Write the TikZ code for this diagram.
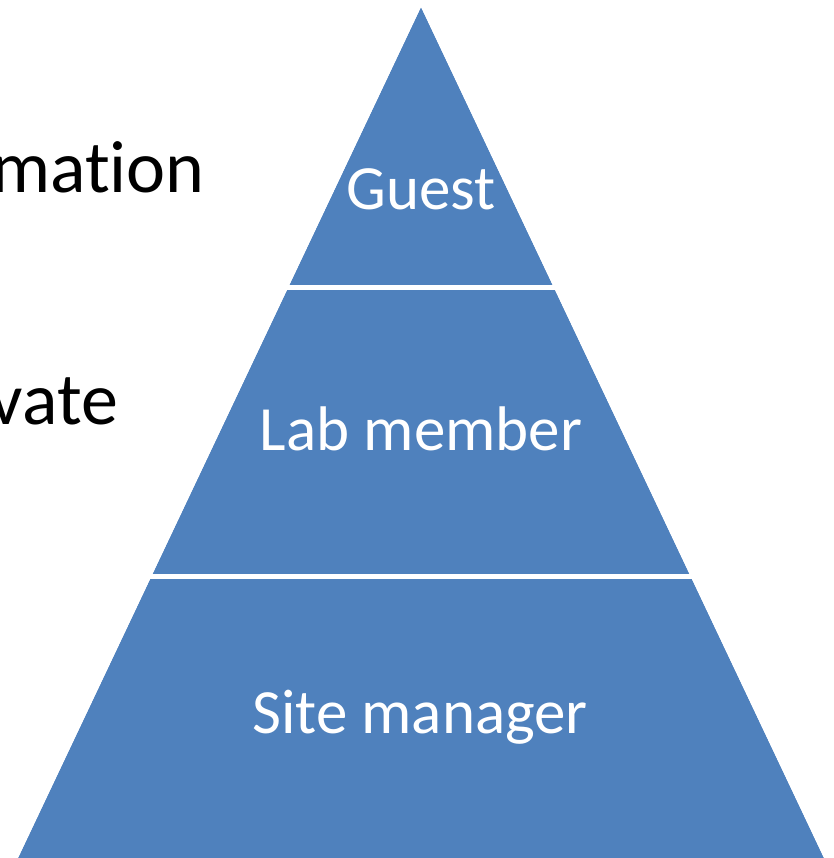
\documentclass[tikz,border=0pt]{standalone}
\usepackage{fontspec}
\setmainfont[Ligatures={NoCommon}]{Carlito}
\definecolor{pyrblue}{HTML}{4F81BD}
\begin{document}
\begin{tikzpicture}[x=1pt,y=-1pt,
  lvltext/.style={text=white,inner sep=0pt,anchor=base,font=\fontsize{63}{70}\selectfont},
  sidetext/.style={text=black,inner sep=0pt,anchor=base east,font=\fontsize{74}{80}\selectfont},
  gap/.style={white,line width=5.5pt}]
\useasboundingbox (0,0) rectangle (833,858);
\clip (0,0) rectangle (833,858);
\fill[white] (0,0) rectangle (833,858);
% pyramid
\coordinate (apex) at (421,7);
\coordinate (bl) at (18,858);
\coordinate (br) at (824,858);
\fill[pyrblue] (apex) -- (br) -- (bl) -- cycle;
\draw[gap] (200,287.5) -- (650,287.5);
\draw[gap] (100,576.5) -- (750,576.5);
% keep triangle sides clean
\fill[white] (apex) -- (br) -- (833,858) -- (833,0) -- (421,0) -- cycle;
\fill[white] (apex) -- (bl) -- (0,858) -- (0,0) -- (421,0) -- cycle;
\node[lvltext] (guest) at (421,210) {Guest};
\node[lvltext] (lab) at (421,450) {Lab member};
\node[lvltext] (site) at (420,733) {Site manager};
\node[sidetext] (info) at (205,193) {mation};
\node[sidetext] (priv) at (118,424) {vate};
\end{tikzpicture}
\end{document}
